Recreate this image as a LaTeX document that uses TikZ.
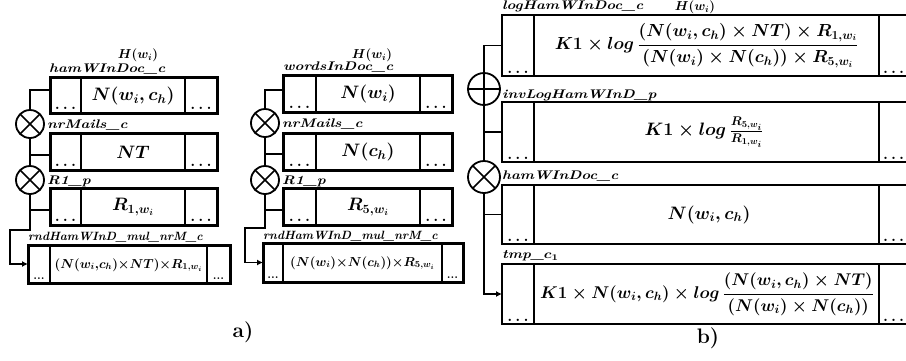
\RequirePackage{fix-cm}
\documentclass[tikz,border=0pt]{standalone}
\usepackage{amsmath}
\usepackage{amssymb}
\usepackage{graphicx}
\usetikzlibrary{arrows.meta,calc}
\newcommand\fsz[1]{\fontsize{#1}{#1}\selectfont}
\newcommand\lt[1]{\scalebox{1.2}[1]{\fsz{12.5}\bfseries\itshape\boldmath #1}}
\newcommand\ltn[1]{{\fsz{12}\bfseries\itshape\boldmath #1}}
\newcommand\wdots{.\hspace{3pt}.\hspace{3pt}.}
% #1 name, #2 box style, #3 x1, #4 y1, #5 x2, #6 y2, #7 d1, #8 d2
\newcommand\cellbox[8]{%
  \node[#2, minimum width={#5-#3}, minimum height={#6-#4}, anchor=north west] (#1) at (#3,#4) {};
  \draw[#2 div] (#7,#4) -- (#7,#6) (#8,#4) -- (#8,#6);
}
\newcommand\mulnode[4]{% name, style, x, y
  \node[#2] (#1) at (#3,#4) {};
  \draw[line width=1.6pt] (#1.45) -- (#1.225) (#1.135) -- (#1.315);
}
\newcommand\addnode[4]{% name, style, x, y
  \node[#2] (#1) at (#3,#4) {};
  \draw[line width=1.6pt] (#1.north) -- (#1.south) (#1.east) -- (#1.west);
}
\begin{document}
\begin{tikzpicture}[x=1pt,y=-1pt,
  boxa/.style={draw, line width=3pt, rectangle, inner sep=0pt, outer sep=0pt},
  boxa div/.style={line width=2.6pt},
  boxb/.style={draw, line width=2pt, rectangle, inner sep=0pt, outer sep=0pt},
  boxb div/.style={line width=1.8pt},
  dotsa/.style={inner sep=0pt, yshift=3.5pt, font=\fsz{16}\bfseries},
  dotsa small/.style={inner sep=0pt, yshift=3.5pt, font=\fsz{12}\bfseries},
  dotsb/.style={inner sep=0pt, yshift=2.5pt, font=\fsz{16}\bfseries},
  circa/.style={draw, circle, line width=1.8pt, minimum size=28pt, inner sep=0pt, outer sep=0pt},
  circb/.style={draw, circle, line width=1.8pt, minimum size=32pt, inner sep=0pt, outer sep=0pt},
  cn/.style={line width=1.8pt},
  arr/.style={line width=1.8pt, -{Latex[length=6pt,width=6pt]}},
  lab/.style={inner sep=0pt, anchor=west},
  ttl/.style={inner sep=0pt, font=\fsz{13}\boldmath},
  big/.style={inner sep=0pt, font=\fsz{18}\boldmath},
  mid/.style={inner sep=0pt, font=\fsz{13}\boldmath},
  wide/.style={inner sep=0pt, font=\fsz{17.5}\boldmath},
  captext/.style={inner sep=0pt, font=\fsz{21}\bfseries},
]
\clip (0,0) rectangle (906,360);
\fill[white] (0,0) rectangle (906,360);

% ---------------- panel a, left group
\cellbox{L1}{boxa}{50}{77}{217}{113}{81}{185}
\cellbox{L2}{boxa}{50}{133}{217}{170}{81}{185}
\cellbox{L3}{boxa}{50}{188}{217}{225}{81}{185}
\cellbox{L4}{boxa}{28}{245}{230}{283}{50}{207}
\foreach \n/\y in {L1/113,L2/170,L3/225}{
  \node[dotsa, anchor=south] (\n da) at (65.5,\y) {\wdots};
  \node[dotsa, anchor=south] (\n db) at (201,\y) {\wdots};
}
\node[dotsa small, anchor=south] (L4da) at (39,283) {...};
\node[dotsa small, anchor=south] (L4db) at (218.5,283) {...};
\mulnode{Lc1}{circa}{30}{124}
\mulnode{Lc2}{circa}{30}{180}
\node[big] (L1t) at (133,96) {$N(w_i,c_h)$};
\node[big] (L2t) at (133,152) {$NT$};
\node[big] (L3t) at (133,207) {$R_{1,w_i}$};
\node[mid] (L4t) at (128.5,265) {$(N(w_i{,}c_h){\times}NT){\times}R_{1,w_i}$};
\node[ttl] (LH) at (138,55) {$H(w_i)$};
\node[lab] (Ll1) at (49,69) {\lt{hamWInDoc\_c}};
\node[lab] (Ll2) at (47,125) {\lt{nrMails\_c}};
\node[lab] (Ll3) at (47,181) {\lt{R1\_p}};
\node[lab] (Ll4) at (28,237) {\ltn{rndHamWInD\_mul\_nrM\_c}};
\coordinate (L1j) at ([yshift=5pt]L1.west);
\coordinate (L2j) at ([yshift=-3.5pt]L2.west);
\coordinate (L3j) at ([yshift=-3.5pt]L3.west);
\coordinate (La) at (10,230);
\draw[cn] (L1j) -| (Lc1.north);
\draw[cn] (Lc1.south) -- (Lc2.north);
\draw[cn] (L2j) -- (L2j -| Lc1.south);
\draw[cn] (L3j) -- (L3j -| Lc2.south);
\draw[arr] (Lc2.south) |- (La) |- (L4.west);

% ---------------- panel a, right group
\cellbox{M1}{boxa}{283}{75}{452}{112}{316}{420}
\cellbox{M2}{boxa}{283}{133}{452}{170}{316}{420}
\cellbox{M3}{boxa}{283}{188}{452}{225}{316}{420}
\cellbox{M4}{boxa}{263}{243}{463}{282}{283}{442}
\foreach \n/\y in {M1/112,M2/170,M3/225}{
  \node[dotsa, anchor=south] (\n da) at (299.5,\y) {\wdots};
  \node[dotsa, anchor=south] (\n db) at (436,\y) {\wdots};
}
\node[dotsa small, anchor=south] (M4da) at (273,282) {...};
\node[dotsa small, anchor=south] (M4db) at (452.5,282) {...};
\mulnode{Mc1}{circa}{265}{123}
\mulnode{Mc2}{circa}{265}{180}
\node[big] (M1t) at (368,94) {$N(w_i)$};
\node[big] (M2t) at (368,152) {$N(c_h)$};
\node[big] (M3t) at (368,207) {$R_{5,w_i}$};
\node[mid] (M4t) at (362.5,263) {$(N(w_i){\times}N(c_h)){\times}R_{5,w_i}$};
\node[ttl] (MH) at (372,55) {$H(w_i)$};
\node[lab] (Ml1) at (283,67) {\lt{wordsInDoc\_c}};
\node[lab] (Ml2) at (282,124) {\lt{nrMails\_c}};
\node[lab] (Ml3) at (282,181) {\lt{R1\_p}};
\node[lab] (Ml4) at (263,236) {\ltn{rndHamWInD\_mul\_nrM\_c}};
\coordinate (M1j) at ([yshift=3.5pt]M1.west);
\coordinate (M2j) at ([yshift=-2.5pt]M2.west);
\coordinate (M3j) at ([yshift=-3.5pt]M3.west);
\coordinate (Ma) at (245,228);
\draw[cn] (M1j) -| (Mc1.north);
\draw[cn] (Mc1.south) -- (Mc2.north);
\draw[cn] (M2j) -- (M2j -| Mc1.south);
\draw[cn] (M3j) -- (M3j -| Mc2.south);
\draw[arr] (Mc2.south) |- (Ma) |- (M4.west);
\node[captext] (capa) at (243,332) {a)};

% ---------------- panel b
\cellbox{B1}{boxb}{502}{15}{940}{76}{534}{879}
\cellbox{B2}{boxb}{502}{102}{940}{162}{534}{879}
\cellbox{B3}{boxb}{502}{185}{940}{244}{534}{879}
\cellbox{B4}{boxb}{502}{264}{940}{324}{534}{879}
\foreach \n/\y in {B1/76,B2/162,B3/244,B4/324}{
  \node[dotsb, anchor=south] (\n da) at (518,\y) {\wdots};
  \node[dotsb, anchor=south west] (\n db) at (883,\y) {\wdots};
}
\addnode{Bp}{circb}{484}{89}
\mulnode{Bx}{circb}{484}{177}
\node[wide] (B1t) at (706.5,45.5) {$\displaystyle K1\times log\,\frac{(N(w_i,c_h)\times NT)\times R_{1,w_i}}{(N(w_i)\times N(c_h))\times R_{5,w_i}}$};
\node[big] (B2t) at (704,132) {$K1\times log\,\frac{R_{5,w_i}}{R_{1,w_i}}$};
\node[big] (B3t) at (709,214.5) {$N(w_i,c_h)$};
\node[wide, font=\fsz{17}\boldmath] (B4t) at (707,294) {$\displaystyle K1\times N(w_i,c_h)\times log\,\frac{(N(w_i,c_h)\times NT)}{(N(w_i)\times N(c_h))}$};
\node[ttl] (BH) at (695,7) {$H(w_i)$};
\node[lab] (Bl1) at (502,6.5) {\lt{logHamWInDoc\_c}};
\node[lab] (Bl2) at (502,95) {\lt{invLogHamWInD\_p}};
\node[lab] (Bl3) at (502,176) {\lt{hamWInDoc\_c}};
\node[lab] (Bl4) at (502,256) {\lt{tmp\_$c_1$}};
\draw[cn] (B1.west) -| (Bp.north);
\draw[cn] (Bp.south) -- (Bx.north);
\draw[cn] (B2.west) -- (B2.west -| Bp.south);
\draw[cn] (B3.west) -- (B3.west -| Bx.south);
\draw[arr] (Bx.south) |- (B4.west);
\node[captext] (capb) at (708,338) {b)};
\end{tikzpicture}
\end{document}
